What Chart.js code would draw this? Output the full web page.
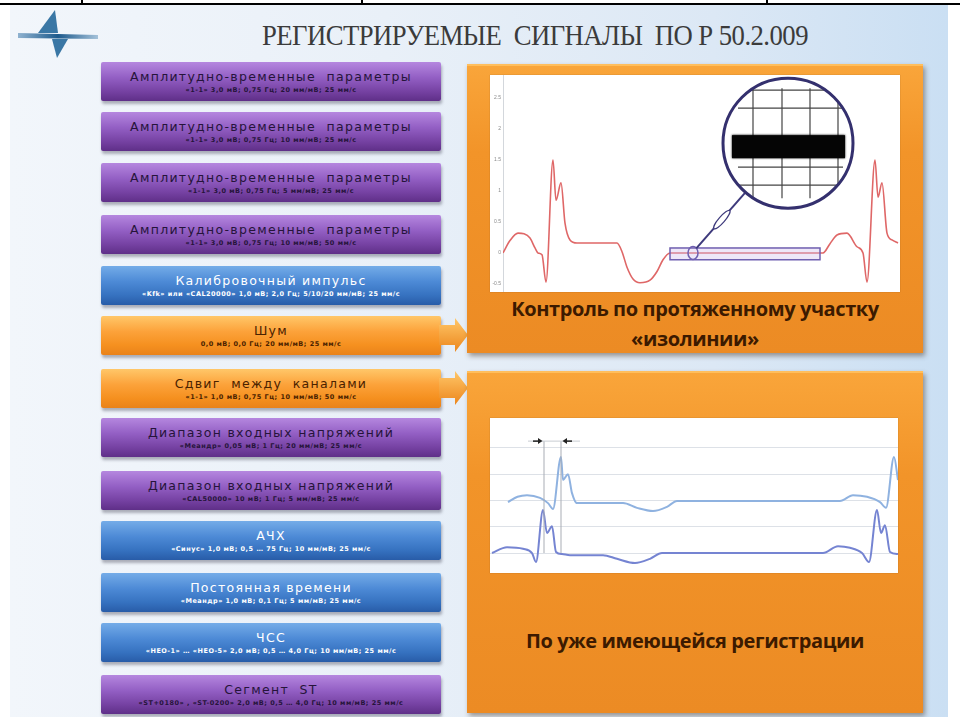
<!DOCTYPE html>
<html>
<head>
<meta charset="utf-8">
<script src="https://cdn.jsdelivr.net/npm/chart.js@4.4.1/dist/chart.umd.min.js"></script>
<style>
  html, body { margin: 0; padding: 0; width: 960px; height: 717px; overflow: hidden; background: #fff; font-family: "DejaVu Sans", sans-serif; }
  .rule { position: absolute; background: #000; }
  .slide { position: absolute; left: 10px; top: 5px; width: 938px; height: 712px;
    background: linear-gradient(90deg, #f2f6fb 0%, #e9f0f8 40%, #dce8f5 75%, #cadff3 100%); }
  .title { position: absolute; left: 262px; top: 20px; font-family: "Liberation Serif", serif; font-size: 30px; line-height: 30px;
    color: #3b3b3b; white-space: pre; letter-spacing: -0.6px; transform: scaleX(0.89); transform-origin: 0 0; }
  .btn { position: absolute; left: 101px; width: 340px; height: 39px; border-radius: 2px; text-align: center;
    box-shadow: 1px 3px 3px rgba(40, 40, 60, 0.35); white-space: pre; }
  .btn .t { font-size: 12.5px; letter-spacing: 1.3px; line-height: 15px; padding-top: 7px; }
  .btn .s { font-size: 6.5px; font-weight: bold; line-height: 12px; letter-spacing: 0.5px; }
  .purple { background: linear-gradient(#b587df 0%, #935fc4 40%, #7642a3 75%, #5f2f88 100%); color: #26143a; }
  .blue { background: linear-gradient(#74ace8 0%, #4d8ad6 40%, #3672c0 75%, #285ca8 100%); color: #fff; }
  .orange { background: linear-gradient(#ffc769 0%, #fca23a 40%, #f5901f 75%, #e9821a 100%); color: #4a2200; }
  .panel { position: absolute; left: 467px; width: 456px; box-shadow: 2px 3px 5px rgba(60, 40, 20, 0.45);
    background: linear-gradient(#f9a53a 0%, #f29429 30%, #ec8b24 100%); border-top: 2px solid #ffbe5c; }
  .plot { position: absolute; background: #fff; box-shadow: 0 0 1px rgba(0, 0, 0, 0.3); }
  .ptext { position: absolute; left: 467px; width: 456px; text-align: center; font-family: "Open Sans", sans-serif;
    font-weight: bold; font-size: 20px; color: #3c1a00; letter-spacing: -0.4px; }
</style>
</head>
<body>
<div class="slide"></div>
<div class="rule" style="left:0;top:3px;width:960px;height:2px"></div>
<div class="rule" style="left:81px;top:0;width:2px;height:4px"></div>
<div class="rule" style="left:361px;top:0;width:2px;height:4px"></div>
<div class="rule" style="left:766px;top:0;width:2px;height:4px"></div>

<svg style="position:absolute;left:14px;top:8px" width="90" height="54">
  <defs>
    <linearGradient id="lg" x1="0" x2="1"><stop offset="0" stop-color="#8fb2d0"/><stop offset="0.5" stop-color="#1d5a8c"/><stop offset="1" stop-color="#a5c2da"/></linearGradient>
  </defs>
  <polygon points="41,2 44,25 24,25" fill="#3a77a5"/>
  <polygon points="4,25 84,27 84,31 4,30" fill="url(#lg)"/>
  <polygon points="38,31 54,31 43,50" fill="#3a77a5"/>
</svg>
<div class="title">РЕГИСТРИРУЕМЫЕ  СИГНАЛЫ  ПО Р 50.2.009</div>

<div class="btn purple" style="top:62px"><div class="t">Амплитудно-временные  параметры</div><div class="s">«1-1» 3,0 мВ; 0,75 Гц; 20 мм/мВ; 25 мм/с</div></div>
<div class="btn purple" style="top:112px"><div class="t">Амплитудно-временные  параметры</div><div class="s">«1-1» 3,0 мВ; 0,75 Гц; 10 мм/мВ; 25 мм/с</div></div>
<div class="btn purple" style="top:163px"><div class="t">Амплитудно-временные  параметры</div><div class="s">«1-1» 3,0 мВ; 0,75 Гц; 5 мм/мВ; 25 мм/с</div></div>
<div class="btn purple" style="top:215px"><div class="t">Амплитудно-временные  параметры</div><div class="s">«1-1» 3,0 мВ; 0,75 Гц; 10 мм/мВ; 50 мм/с</div></div>
<div class="btn blue" style="top:266px"><div class="t">Калибровочный импульс</div><div class="s">«Kfk» или «CAL20000» 1,0 мВ; 2,0 Гц; 5/10/20 мм/мВ; 25 мм/с</div></div>
<div class="btn orange" style="top:316px"><div class="t">Шум</div><div class="s">0,0 мВ; 0,0 Гц; 20 мм/мВ; 25 мм/с</div></div>
<div class="btn orange" style="top:369px"><div class="t">Сдвиг  между  каналами</div><div class="s">«1-1» 1,0 мВ; 0,75 Гц; 10 мм/мВ; 50 мм/с</div></div>
<div class="btn purple" style="top:418px"><div class="t">Диапазон входных напряжений</div><div class="s">«Меандр» 0,05 мВ; 1 Гц; 20 мм/мВ; 25 мм/с</div></div>
<div class="btn purple" style="top:471px"><div class="t">Диапазон входных напряжений</div><div class="s">«CAL50000» 10 мВ; 1 Гц; 5 мм/мВ; 25 мм/с</div></div>
<div class="btn blue" style="top:521px"><div class="t">АЧХ</div><div class="s">«Синус» 1,0 мВ; 0,5 … 75 Гц; 10 мм/мВ; 25 мм/с</div></div>
<div class="btn blue" style="top:573px"><div class="t">Постоянная времени</div><div class="s">«Меандр» 1,0 мВ; 0,1 Гц; 5 мм/мВ; 25 мм/с</div></div>
<div class="btn blue" style="top:623px"><div class="t">ЧСС</div><div class="s">«НЕО-1» … «НЕО-5» 2,0 мВ; 0,5 … 4,0 Гц; 10 мм/мВ; 25 мм/с</div></div>
<div class="btn purple" style="top:675px"><div class="t">Сегмент  ST</div><div class="s">«ST+0180» , «ST-0200» 2,0 мВ; 0,5 … 4,0 Гц; 10 мм/мВ; 25 мм/с</div></div>

<svg style="position:absolute;left:439px;top:316px" width="32" height="100">
  <defs>
    <linearGradient id="og" x1="0" y1="0" x2="0" y2="1"><stop offset="0" stop-color="#ffc769"/><stop offset="1" stop-color="#ec861c"/></linearGradient>
  </defs>
  <polygon points="0,9 16,9 16,2 29,19 16,36 16,29 0,29" fill="url(#og)"/>
  <polygon points="0,62 16,62 16,55 29,72 16,89 16,82 0,82" fill="url(#og)"/>
</svg>

<div class="panel" style="top:64px;height:287px"></div>
<div class="panel" style="top:371px;height:340px"></div>
<div class="plot" style="left:490px;top:75px;width:410px;height:217px"><canvas id="upper" width="410" height="217"></canvas></div>
<div class="plot" style="left:490px;top:418px;width:408px;height:155px"><canvas id="lower" width="408" height="155"></canvas></div>
<div class="ptext" style="top:295px">Контроль по протяженному участку</div>
<div class="ptext" style="top:325px">«изолинии»</div>
<div class="ptext" style="top:627px">По уже имеющейся регистрации</div>

<script>
// upper trace: one cardiac cycle and the start of the next (time in ms, amplitude in mV)
const ecgTime = [0, 28, 60, 84, 108, 128, 140, 156, 172, 200, 212, 232, 248, 268, 296, 456, 476, 496, 520, 548,
  588, 616, 640, 668, 1280, 1308, 1336, 1376, 1416, 1440, 1456, 1488, 1500, 1516, 1536, 1556, 1580];
const ecgMv = [0, 0.2, 0.32, 0.31, 0.24, 0.08, 0, -0.03, -0.47, 1.5, 0.85, 1.13, 0.48, 0.21, 0.16, 0.16, 0.02, -0.23, -0.42, -0.48,
  -0.44, -0.3, -0.11, 0, 0, 0.15, 0.29, 0.32, 0.1, 0, -0.47, 1.5, 0.9, 1.13, 0.32, 0.21, 0.16];
const upperTicks = [-0.5, 0, 0.5, 1, 1.5, 2, 2.5];
const upperTickLabels = ['-0.5', '0', '0.5', '1', '1.5', '2', '2.5'];

// lower plot: two channels shifted in time
const leadATime = [72, 110, 148, 200, 232, 252, 284, 292, 312, 328, 348, 532, 588, 652, 708, 748, 1400, 1452, 1508, 1560, 1584, 1616, 1632];
const leadAMv = [0.97, 1.07, 1.1, 1.05, 0.95, 0.84, 1.83, 1.39, 1.5, 1.14, 0.95, 0.95, 0.86, 0.8, 0.88, 0.99, 0.99, 1.1, 1.07, 0.97, 0.86, 1.83, 1.39];
const leadBTime = [8, 68, 132, 168, 184, 212, 228, 248, 264, 288, 320, 452, 508, 580, 640, 688, 1332, 1392, 1440, 1488, 1516, 1548, 1564, 1580, 1600, 1632];
const leadBMv = [0, 0.11, 0.08, 0, -0.17, 0.82, 0.38, 0.51, 0.02, -0.02, -0.04, -0.04, -0.11, -0.19, -0.11, 0, 0, 0.13, 0.1, 0, -0.17, 0.82, 0.38, 0.53, 0.02, -0.02];
const lowerGrid = [0, 0.5, 1, 1.5, 2];

const toPoints = (xs, ys) => xs.map((x, i) => ({ x: x, y: ys[i] }));

// magnifier over the isoline section
const magnifier = {
  id: 'magnifier',
  afterDatasetsDraw(chart) {
    const { ctx, scales: { x, y } } = chart;
    ctx.save();
    // highlighted isoline stretch
    const rx1 = x.getPixelForValue(668), rx2 = x.getPixelForValue(1268);
    const ry1 = y.getPixelForValue(0.08), ry2 = y.getPixelForValue(-0.11);
    ctx.fillStyle = 'rgba(205, 185, 235, 0.35)';
    ctx.fillRect(rx1, ry1, rx2 - rx1, ry2 - ry1);
    ctx.strokeStyle = '#6f5fb0';
    ctx.lineWidth = 1.5;
    ctx.strokeRect(rx1, ry1, rx2 - rx1, ry2 - ry1);
    // small circle and leader
    const sx = x.getPixelForValue(760), sy = y.getPixelForValue(0);
    ctx.beginPath();
    ctx.ellipse(sx, sy, 5, 6.5, 0, 0, Math.PI * 2);
    ctx.stroke();
    const cx = x.getPixelForValue(1140), cy = y.getPixelForValue(1.77), r = 65;
    const dx = cx - sx, dy = cy - sy, d = Math.hypot(dx, dy);
    const ux = dx / d, uy = dy / d;
    ctx.strokeStyle = '#3e3a7c';
    ctx.lineWidth = 2;
    ctx.beginPath();
    ctx.moveTo(sx + ux * 5, sy + uy * 6);
    ctx.lineTo(cx - ux * r, cy - uy * r);
    ctx.stroke();
    const mx = sx + ux * (d - r) * 0.55, my = sy + uy * (d - r) * 0.55;
    ctx.lineWidth = 1.2;
    ctx.beginPath();
    ctx.ellipse(mx, my, 12, 3, Math.atan2(dy, dx), 0, Math.PI * 2);
    ctx.fillStyle = '#fff';
    ctx.fill();
    ctx.stroke();
    // lens
    ctx.beginPath();
    ctx.arc(cx, cy, r, 0, Math.PI * 2);
    ctx.fillStyle = '#fff';
    ctx.fill();
    ctx.save();
    ctx.clip();
    ctx.strokeStyle = '#444';
    ctx.lineWidth = 1.2;
    [-35, -6, 22, 50].forEach(v => {
      ctx.beginPath(); ctx.moveTo(cx + v, cy - 55); ctx.lineTo(cx + v, cy + 55); ctx.stroke();
    });
    [-53, -35, 24, 42].forEach(v => {
      ctx.beginPath(); ctx.moveTo(cx - 50, cy + v); ctx.lineTo(cx + 55, cy + v); ctx.stroke();
    });
    ctx.shadowColor = '#000';
    ctx.shadowBlur = 2;
    ctx.fillStyle = '#050505';
    ctx.fillRect(cx - 56, cy - 8, 113, 23);
    ctx.restore();
    ctx.strokeStyle = '#34306e';
    ctx.lineWidth = 3;
    ctx.beginPath();
    ctx.arc(cx, cy, r, 0, Math.PI * 2);
    ctx.stroke();
    ctx.restore();
  }
};

// time-shift markers on the lower plot
const shiftMarks = {
  id: 'shiftMarks',
  afterDatasetsDraw(chart) {
    const { ctx, scales: { x, y } } = chart;
    const xa = x.getPixelForValue(216), xb = x.getPixelForValue(284);
    const top = y.getPixelForValue(2.13), bottom = y.getPixelForValue(0);
    ctx.save();
    ctx.strokeStyle = '#a9adb5';
    ctx.lineWidth = 1;
    [xa, xb].forEach(px => {
      ctx.beginPath(); ctx.moveTo(px, top); ctx.lineTo(px, bottom); ctx.stroke();
    });
    ctx.strokeStyle = '#c8ccd2';
    ctx.beginPath();
    ctx.moveTo(x.getPixelForValue(152), top);
    ctx.lineTo(x.getPixelForValue(360), top);
    ctx.stroke();
    ctx.fillStyle = '#222';
    ctx.strokeStyle = '#222';
    ctx.lineWidth = 1.5;
    ctx.beginPath(); ctx.moveTo(xa - 11, top); ctx.lineTo(xa - 3, top); ctx.stroke();
    ctx.beginPath(); ctx.moveTo(xa - 1.5, top); ctx.lineTo(xa - 6, top - 3); ctx.lineTo(xa - 6, top + 3); ctx.closePath(); ctx.fill();
    ctx.beginPath(); ctx.moveTo(xb + 3, top); ctx.lineTo(xb + 11, top); ctx.stroke();
    ctx.beginPath(); ctx.moveTo(xb + 1.5, top); ctx.lineTo(xb + 6, top - 3); ctx.lineTo(xb + 6, top + 3); ctx.closePath(); ctx.fill();
    ctx.restore();
  }
};

new Chart(document.getElementById('upper'), {
  type: 'line',
  data: {
    datasets: [{
      data: toPoints(ecgTime, ecgMv),
      borderColor: '#df6767',
      borderWidth: 1.6,
      pointRadius: 0,
      cubicInterpolationMode: 'monotone',
      fill: false
    }]
  },
  options: {
    responsive: false,
    animation: false,
    layout: { padding: 0 },
    plugins: { legend: { display: false }, tooltip: { enabled: false } },
    scales: {
      x: { type: 'linear', display: false, min: 0, max: 1588 },
      y: {
        min: -0.63,
        max: 2.87,
        afterBuildTicks: s => { s.ticks = upperTicks.map(v => ({ value: v })); },
        afterFit: s => { s.width = 13; s.paddingTop = 0; s.paddingBottom = 0; },
        ticks: { font: { size: 5 }, color: '#8a8a8a', padding: 2, callback: (v, i) => upperTickLabels[i] },
        grid: { display: false, drawTicks: false },
        border: { color: '#d3d7dc' }
      }
    }
  },
  plugins: [magnifier]
});

new Chart(document.getElementById('lower'), {
  type: 'line',
  data: {
    datasets: [{
      data: toPoints(leadATime, leadAMv),
      borderColor: '#8fb2e0',
      borderWidth: 2,
      pointRadius: 0,
      cubicInterpolationMode: 'monotone',
      fill: false
    }, {
      data: toPoints(leadBTime, leadBMv),
      borderColor: '#7584d2',
      borderWidth: 2,
      pointRadius: 0,
      cubicInterpolationMode: 'monotone',
      fill: false
    }]
  },
  options: {
    responsive: false,
    animation: false,
    layout: { padding: 0 },
    plugins: { legend: { display: false }, tooltip: { enabled: false } },
    scales: {
      x: { type: 'linear', display: false, min: 0, max: 1632 },
      y: {
        min: -0.38,
        max: 2.57,
        afterBuildTicks: s => { s.ticks = lowerGrid.map(v => ({ value: v })); },
        afterFit: s => { s.width = 0; s.paddingTop = 0; s.paddingBottom = 0; },
        ticks: { display: false },
        grid: { color: '#dde1e7', drawTicks: false },
        border: { display: false }
      }
    }
  },
  plugins: [shiftMarks]
});
</script>
</body>
</html>
